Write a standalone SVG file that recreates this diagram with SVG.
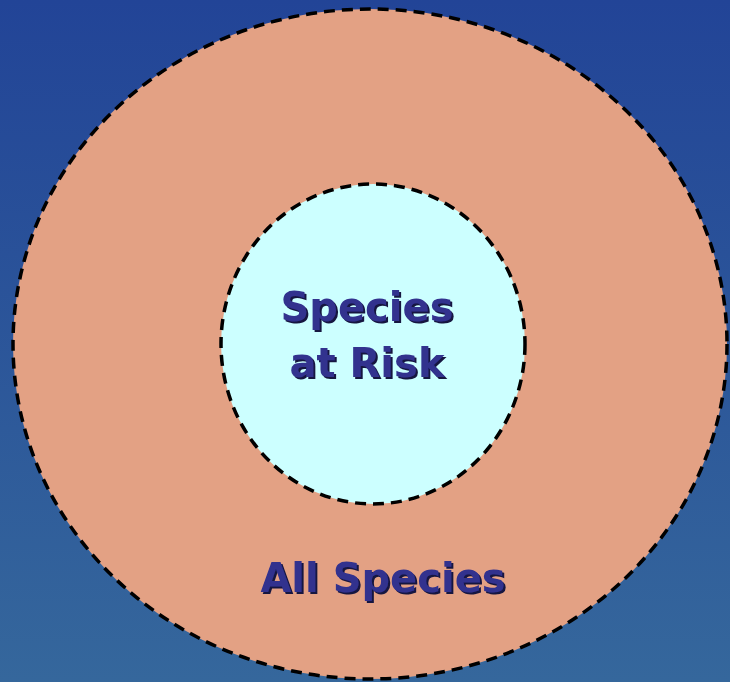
<svg xmlns="http://www.w3.org/2000/svg" width="730" height="682" viewBox="0 0 730 682">
<defs>
<linearGradient id="bg" x1="0" y1="0" x2="0" y2="1">
<stop offset="0" stop-color="#224497"/>
<stop offset="1" stop-color="#35679c"/>
</linearGradient>
<filter id="shadow" x="-10%" y="-10%" width="120%" height="130%">
<feDropShadow dx="2" dy="2" stdDeviation="0.3" flood-color="#141440" flood-opacity="1"/>
</filter>
<style>
.ring{stroke:#000;stroke-width:3.5;stroke-dasharray:11 7}
.lbl{font-family:"Comic Sans MS","DejaVu Sans",sans-serif;font-size:40px;font-weight:bold;fill:#30308e;text-anchor:middle;filter:url(#shadow)}
</style>
</defs>
<rect width="730" height="682" fill="url(#bg)"/>
<g id="all-species">
<ellipse class="ring" cx="370" cy="344" rx="357" ry="335" fill="#e3a184"/>
<text class="lbl" x="383" y="592">All Species</text>
</g>
<g id="species-at-risk">
<ellipse class="ring" cx="373" cy="344" rx="152" ry="160" fill="#ccffff"/>
<text class="lbl" x="367" y="321">Species</text>
<text class="lbl" x="367" y="377">at Risk</text>
</g>
<g id="connectors"/>
</svg>
